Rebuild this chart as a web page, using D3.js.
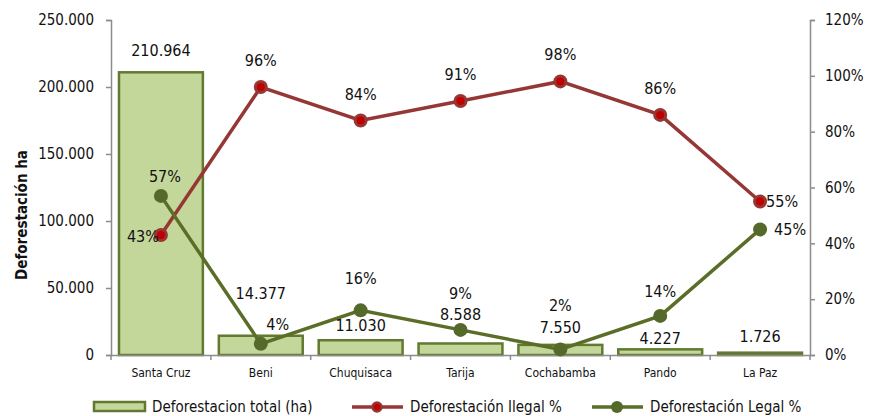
<!DOCTYPE html>
<html><head><meta charset="utf-8">
<script src="https://cdn.jsdelivr.net/npm/d3@7"></script>
<style>
body{margin:0;background:#fff;}
text{font-family:"DejaVu Sans Condensed","DejaVu Sans",sans-serif;fill:#111;}
</style></head><body>
<svg id="c" width="881" height="416"></svg>
<script>
const categories = ["Santa Cruz","Beni","Chuquisaca","Tarija","Cochabamba","Pando","La Paz"];
const totalHa = [210964,14377,11030,8588,7550,4227,1726];
const illegalPct = [43,96,84,91,98,86,55];
const legalPct = [57,4,16,9,2,14,45];
const leftTicks = [0,50000,100000,150000,200000,250000];
const rightTicks = [0,20,40,60,80,100,120];

const fmt = v => d3.format(",")(v).replace(/,/g,".");
const svg = d3.select("#c");
const L=111,R=810,T=20,B=355;
const x = d3.scaleBand().domain(categories).range([L,R]).paddingInner(0.16).paddingOuter(0.08);
const xb = d3.scaleBand().domain(categories).range([L,R]);
const y = d3.scaleLinear().domain([0,250000]).range([B,T]);
const y2 = d3.scaleLinear().domain([0,120]).range([B,T]);
const axisCol="#8c8c8c";

// bars
svg.append("g").selectAll("rect").data(categories).join("rect")
  .attr("x",d=>x(d)).attr("width",x.bandwidth())
  .attr("y",(d,i)=>y(totalHa[i])).attr("height",(d,i)=>B-y(totalHa[i]))
  .attr("fill","#c4d79b").attr("stroke","#627a2f").attr("stroke-width",2.5);

// axes
const gl = svg.append("g").attr("transform",`translate(${L},0)`)
  .call(d3.axisLeft(y).tickValues(leftTicks).tickFormat(fmt).tickSize(5).tickPadding(12));
const gr = svg.append("g").attr("transform",`translate(${R},0)`)
  .call(d3.axisRight(y2).tickValues(rightTicks).tickFormat(d=>d+"%").tickSize(5).tickPadding(10));
const gx = svg.append("g").attr("transform",`translate(0,${B})`)
  .call(d3.axisBottom(xb).tickSize(0).tickPadding(13));
[gl,gr,gx].forEach(g=>{g.select(".domain").attr("stroke",axisCol).attr("stroke-width",1.5);
  g.selectAll(".tick line").attr("stroke",axisCol).attr("stroke-width",1.5);});
gl.selectAll("text").attr("font-size",15).style("font-family","DejaVu Sans Condensed");
gr.selectAll("text").attr("font-size",15).style("font-family","DejaVu Sans Condensed");
gx.selectAll("text").attr("font-size",12).style("font-family","DejaVu Sans Condensed");
gx.selectAll(".bt").data(d3.range(categories.length+1)).join("line").attr("class","bt")
  .attr("x1",i=>L+i*xb.step()).attr("x2",i=>L+i*xb.step()).attr("y1",0).attr("y2",5)
  .attr("stroke",axisCol).attr("stroke-width",1.5);

// y title
svg.append("text").attr("transform","translate(27,215) rotate(-90)").attr("text-anchor","middle")
  .attr("font-size",15).attr("font-weight","bold").text("Deforestación ha");

const cx = d => xb(d)+xb.bandwidth()/2;
const line = d3.line().x(d=>d[0]).y(d=>d[1]);
const ilPts = categories.map((c,i)=>[cx(c),y2(illegalPct[i])]);
const lgPts = categories.map((c,i)=>[cx(c),y2(legalPct[i])]);
svg.append("path").attr("d",line(ilPts)).attr("fill","none").attr("stroke","#953735").attr("stroke-width",3.5);
svg.append("path").attr("d",line(lgPts)).attr("fill","none").attr("stroke","#5a6e28").attr("stroke-width",3.5);
svg.append("g").selectAll("circle").data(ilPts).join("circle").attr("cx",d=>d[0]).attr("cy",d=>d[1]).attr("r",5.5)
  .attr("fill","#c00000").attr("stroke","#953735").attr("stroke-width",3);
svg.append("g").selectAll("circle").data(lgPts).join("circle").attr("cx",d=>d[0]).attr("cy",d=>d[1]).attr("r",7)
  .attr("fill","#55692a");

// total labels
const totDy = [-16,-37,-9,-23,-12,-5,-11];
svg.append("g").selectAll("text").data(categories).join("text")
  .attr("x",d=>cx(d)).attr("y",(d,i)=>y(totalHa[i])+totDy[i]).attr("text-anchor","middle").attr("font-size",16)
  .text((d,i)=>fmt(totalHa[i]));
// illegal labels
const ilDx=[-18,0,0,0,0,0,22], ilDy=[7,-21,-21,-21,-21,-21,6];
svg.append("g").selectAll("text").data(categories).join("text")
  .attr("x",(d,i)=>cx(d)+ilDx[i]).attr("y",(d,i)=>y2(illegalPct[i])+ilDy[i]).attr("text-anchor","middle").attr("font-size",16)
  .text((d,i)=>illegalPct[i]+"%");
const lgDx=[4,17,0,0,0,0,30], lgDy=[-14,-14,-26,-31,-38,-19,6];
svg.append("g").selectAll("text").data(categories).join("text")
  .attr("x",(d,i)=>cx(d)+lgDx[i]).attr("y",(d,i)=>y2(legalPct[i])+lgDy[i]).attr("text-anchor","middle").attr("font-size",16)
  .text((d,i)=>legalPct[i]+"%");

// legend
const lg = svg.append("g").attr("transform","translate(0,407)");
lg.append("rect").attr("x",94).attr("y",-5).attr("width",51).attr("height",9).attr("fill","#c4d79b").attr("stroke","#627a2f").attr("stroke-width",2.5);
lg.append("text").attr("x",152).attr("y",5).attr("font-size",15).text("Deforestacion total (ha)");
lg.append("line").attr("x1",352).attr("x2",403).attr("y1",0).attr("y2",0).attr("stroke","#953735").attr("stroke-width",3.5);
lg.append("circle").attr("cx",377).attr("cy",0).attr("r",4.5).attr("fill","#c00000").attr("stroke","#953735").attr("stroke-width",2.5);
lg.append("text").attr("x",410).attr("y",5).attr("font-size",15).text("Deforestación Ilegal %");
lg.append("line").attr("x1",592).attr("x2",643).attr("y1",0).attr("y2",0).attr("stroke","#5a6e28").attr("stroke-width",3.5);
lg.append("circle").attr("cx",617).attr("cy",0).attr("r",6).attr("fill","#55692a");
lg.append("text").attr("x",650).attr("y",5).attr("font-size",15).text("Deforestación Legal %");
</script></body></html>
